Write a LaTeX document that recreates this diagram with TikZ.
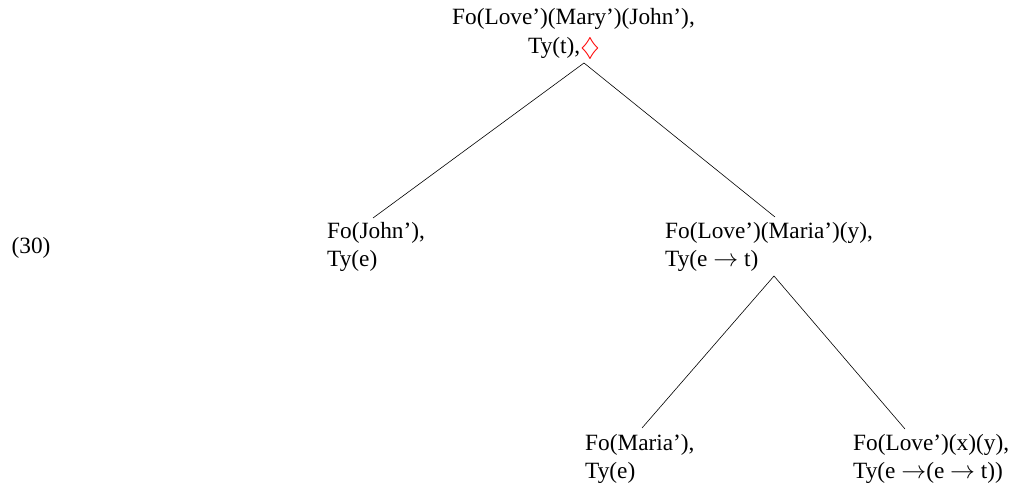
\documentclass[tikz,border=0pt]{standalone}
\usepackage{fontspec}
\setmainfont{Liberation Serif}
\usepackage{amssymb}
\newcommand{\twolines}[3]{\begin{tabular}[t]{@{}#1@{}}#2\\#3\end{tabular}}
\begin{document}
\begin{tikzpicture}[x=1pt,y=-1pt,
  lbl/.style={inner sep=0pt, anchor=base west, font=\fontsize{23.3}{28.5}\selectfont},
  clbl/.style={inner sep=0pt, anchor=base, font=\fontsize{23.3}{28.5}\selectfont},
  edge/.style={draw=black, line width=0.6pt}]
\useasboundingbox (0,0) rectangle (1012,487);
\node[lbl] (top) at (452,25) {\twolines{l}{Fo(Love’)(Mary’)(John’),}{\hspace*{76pt}Ty(t),{\color{red}\raisebox{-2pt}{$\diamondsuit$}}}};
\node[lbl] (john) at (327,238) {\twolines{l}{Fo(John’),}{Ty(e)}};
\node[lbl] (love) at (665,238) {\twolines{l}{Fo(Love’)(Maria’)(y),}{Ty(e $\rightarrow$ t)}};
\node[lbl] (maria) at (585,450) {\twolines{l}{Fo(Maria’),}{Ty(e)}};
\node[lbl] (lovexy) at (853,450) {\twolines{l}{Fo(Love’)(x)(y),}{Ty(e $\rightarrow$(e $\rightarrow$ t))}};
\node[clbl] (num) at (31,253) {(30)};
\coordinate (a0) at (584,63);
\coordinate (jtop) at (373,218);
\coordinate (ltop) at (775,217);
\coordinate (a1) at (774,276);
\coordinate (mtop) at (642,428);
\coordinate (xtop) at (905,429);
\draw[edge] (jtop) -- (a0) -- (ltop);
\draw[edge] (mtop) -- (a1) -- (xtop);
\end{tikzpicture}
\end{document}
